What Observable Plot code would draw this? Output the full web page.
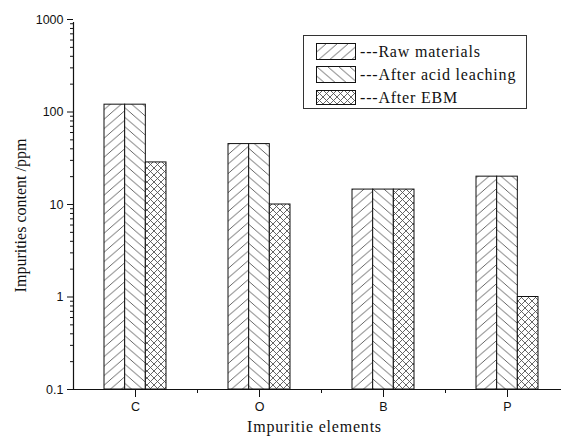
<!DOCTYPE html>
<html>
<head>
<meta charset="utf-8">
<script src="https://cdn.jsdelivr.net/npm/d3@7"></script>
<script src="https://cdn.jsdelivr.net/npm/@observablehq/plot@0.6"></script>
<style>
  body { margin: 0; background: #fff; }
  #wrap { position: relative; width: 561px; height: 439px; overflow: hidden; }
  #legend { position: absolute; left: 303px; top: 35px; width: 222px; height: 72px; border: 1px solid #333; background: #fff; }
  .row { position: absolute; left: 12px; height: 17px; display: flex; align-items: center; }
  .row span { font-family: "Liberation Serif", serif; font-size: 16px; letter-spacing: 0.8px; margin-left: 4px; color: #111; }
  .sans { font-family: "Liberation Sans", sans-serif; letter-spacing: 0; }
</style>
</head>
<body>
<div id="wrap"></div>
<script>
const categories = ["C", "O", "B", "P"];
const series = ["Raw materials", "After acid leaching", "After EBM"];
const rawValues = [120, 45, 14.5, 20];
const acidValues = [120, 45, 14.5, 20];
const ebmValues = [28.5, 10, 14.5, 1];
const yMajorTicks = [0.1, 1, 10, 100, 1000];

const seriesValues = [rawValues, acidValues, ebmValues];
const patternIds = ["pat-raw", "pat-acid", "pat-ebm"];
const data = [];
series.forEach((s, i) => categories.forEach((c, j) => data.push({element: c, series: s, si: i, value: seriesValues[i][j]})));

const yMinorTicks = [];
for (let e = -1; e < 3; e++) for (let k = 2; k <= 9; k++) yMinorTicks.push(+(k * Math.pow(10, e)).toPrecision(3));

const width = 561, height = 439;
const xRange = [73, 569];
const band = d3.scaleBand().domain(categories).range(xRange).paddingInner(0.5).paddingOuter(0.25);
const bw = band.bandwidth();
const step = band.step();

function defs() {
  const d = d3.create("svg:defs");
  const mk = (id, w, h, path) => {
    const p = d.append("pattern").attr("id", id).attr("patternUnits", "userSpaceOnUse").attr("width", w).attr("height", h);
    p.append("rect").attr("width", w).attr("height", h).attr("fill", "#fff");
    p.append("path").attr("d", path).attr("stroke", "#555").attr("stroke-width", 0.9).attr("fill", "none");
  };
  mk("pat-raw", 11, 9.5, "M0,9.5L11,0M-1,0.86L1,-0.86M10,10.36L12,8.64");
  mk("pat-acid", 11, 9.5, "M0,0L11,9.5M-1,8.64L1,10.36M10,-0.86L12,0.86");
  mk("pat-ebm", 7, 7, "M0,0L7,7M7,0L0,7");
  return d.node();
}

const barMarks = series.map((s, i) => Plot.barY(data.filter(d => d.si === i), {
  x: "element", y1: 0.1, y2: "value",
  fill: `url(#${patternIds[i]})`, stroke: "#111", strokeWidth: 1,
  insetLeft: i * bw / 3, insetRight: (2 - i) * bw / 3
}));

const chart = Plot.plot({
  width, height,
  marginLeft: 73, marginTop: 19, marginBottom: 50, marginRight: width - xRange[1],
  x: {domain: categories, range: xRange, paddingInner: 0.5, paddingOuter: 0.25, label: null},
  y: {type: "log", domain: [0.1, 1000], range: [389, 19], label: null},
  style: {background: "#fff", color: "#111"},
  marks: [
    defs,
    ...barMarks,
    Plot.ruleY([0.1], {stroke: "#111", strokeWidth: 1.2, insetLeft: -6}),
    Plot.ruleX([categories[0]], {y1: 0.1, y2: 1000, dx: -(band(categories[0]) - xRange[0]) - bw / 2, stroke: "#111", strokeWidth: 1.2, insetBottom: -3}),
    Plot.axisY(yMajorTicks, {tickSize: 6, tickPadding: 4, tickFormat: d => String(d), fontFamily: "Liberation Sans, sans-serif", fontSize: 12.5, stroke: "#111"}),
    Plot.axisY(yMinorTicks, {tickSize: 3, tickFormat: () => "", stroke: "#111"}),
    Plot.axisX(categories, {tickSize: 8, tickPadding: 5, fontFamily: "Liberation Sans, sans-serif", fontSize: 12.5, stroke: "#111"}),
    Plot.axisX(categories.slice(0, 3), {tickSize: 4, dx: step / 2, tickFormat: () => "", stroke: "#111"}),
    Plot.text(["Impuritie elements"], {frameAnchor: "bottom", textAnchor: "middle", dy: 42, dx: -7, fontFamily: "Liberation Serif, serif", fontSize: 16, fill: "#111"}),
    Plot.text(["Impurities content /ppm"], {frameAnchor: "left", textAnchor: "middle", rotate: -90, dx: -53, dy: 11, fontFamily: "Liberation Serif, serif", fontSize: 16, fill: "#111"})
  ]
});

d3.select(chart).selectAll("text").filter(function() { return this.textContent === "Impuritie elements"; }).attr("letter-spacing", "0.8px");

const wrap = document.getElementById("wrap");
wrap.appendChild(chart);

const legend = document.createElement("div");
legend.id = "legend";
series.forEach((s, i) => {
  const row = document.createElement("div");
  row.className = "row";
  row.style.top = (7 + i * 23) + "px";
  const sw = `<svg width="40" height="${i === 2 ? 15 : 17}"><rect x="0.5" y="0.5" width="39" height="${i === 2 ? 14 : 16}" fill="url(#${patternIds[i]})" stroke="#111"/></svg>`;
  const label = s === "After EBM" ? `---After <span class="sans" style="margin:0">EBM</span>` : `---${s}`;
  row.innerHTML = sw + `<span>${label}</span>`;
  legend.appendChild(row);
});
wrap.appendChild(legend);
</script>
</body>
</html>
